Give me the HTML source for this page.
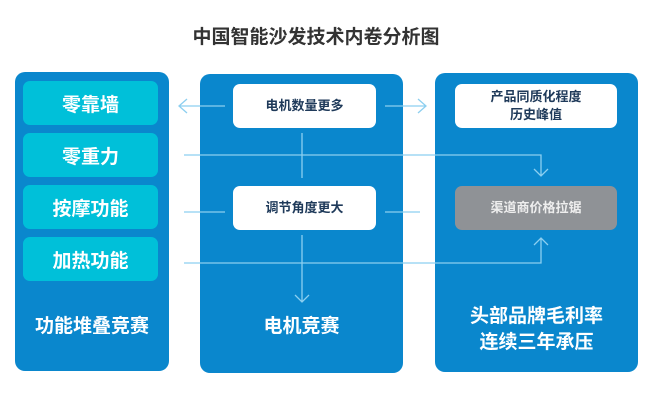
<!DOCTYPE html>
<html><head><meta charset="utf-8"><style>
body{margin:0;width:667px;height:411px;background:#fff;position:relative;overflow:hidden;font-family:"Liberation Sans","Noto Sans CJK SC",sans-serif;font-weight:bold}
div{position:absolute;box-sizing:border-box}
.panel{background:#0a87cd;border-radius:10px}
.teal{background:#00c0d9;border-radius:7px;left:23px;width:135px;height:44px;color:#fff;font-size:19px;display:flex;align-items:center;justify-content:center}
.wb{background:#fff;border-radius:7px;color:#1f3a5a;font-size:13px;display:flex;align-items:center;justify-content:center;text-align:center;line-height:18px}
.big{color:#fff;font-size:19px;text-align:center;line-height:25px}
svg{position:absolute;left:0;top:0}
</style></head><body>
<div style="left:0;top:22px;width:632px;text-align:center;font-size:19px;color:#333">中国智能沙发技术内卷分析图</div>
<div class="panel" style="left:15px;top:72px;width:154px;height:299px"></div>
<div class="panel" style="left:200px;top:74px;width:203px;height:299px"></div>
<div class="panel" style="left:435px;top:73px;width:203px;height:299px"></div>
<div class="teal" style="top:81px">零靠墙</div>
<div class="teal" style="top:133px">零重力</div>
<div class="teal" style="top:185px">按摩功能</div>
<div class="teal" style="top:237px">加热功能</div>
<div class="big" style="left:15px;top:314px;width:154px">功能堆叠竞赛</div>
<div class="wb" style="left:233px;top:84px;width:143px;height:44px">电机数量更多</div>
<div class="wb" style="left:233px;top:186px;width:143px;height:44px">调节角度更大</div>
<div class="big" style="left:200px;top:314px;width:203px">电机竞赛</div>
<div class="wb" style="left:455px;top:84px;width:162px;height:44px">产品同质化程度<br>历史峰值</div>
<div class="wb" style="left:455px;top:186px;width:162px;height:44px;background:#8f9296;color:#eee">渠道商价格拉锯</div>
<div class="big" style="left:435px;top:304px;width:203px;line-height:26px">头部品牌毛利率<br>连续三年承压</div>
<svg width="667" height="411" fill="none" stroke="#8ccff0" stroke-width="1.3">
<path d="M225 106H179M187 99L179 106L187 113"/>
<path d="M385 106H426M418 99L426 106L418 113"/>
<path d="M184 155H541V176M534 169L541 176L548 169"/>
<path d="M184 263H541V238M534 245L541 238L548 245"/>
<path d="M184 212H225M385 212H420"/>
<path d="M302 133V178M302 235V302M295 295L302 302L309 295"/>
</svg>
</body></html>
